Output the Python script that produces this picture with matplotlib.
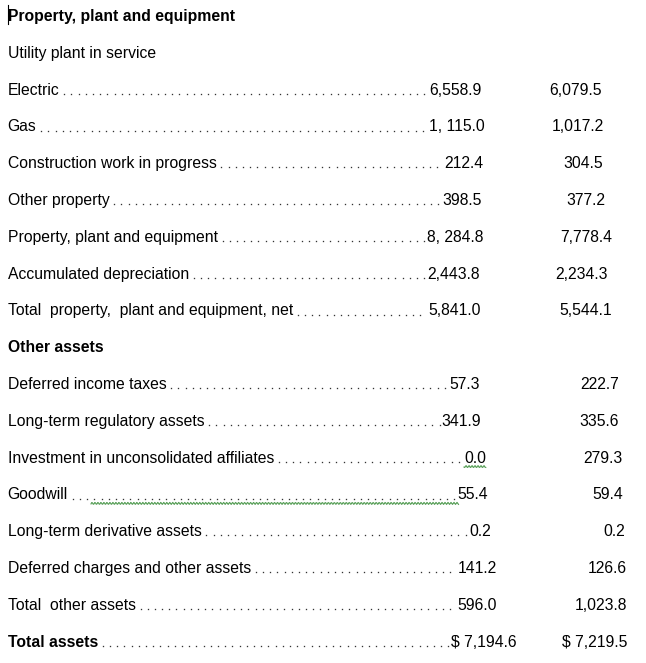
from matplotlib import pyplot as plt
import numpy as np

# rows of the balance sheet extract (None = no figures on that row)
labels = [
    "Property, plant and equipment",
    "Utility plant in service",
    "Electric",
    "Gas",
    "Construction work in progress",
    "Other property",
    "Property, plant and equipment",
    "Accumulated depreciation",
    "Total  property,  plant and equipment, net",
    "Other assets",
    "Deferred income taxes",
    "Long-term regulatory assets",
    "Investment in unconsolidated affiliates",
    "Goodwill",
    "Long-term derivative assets",
    "Deferred charges and other assets",
    "Total  other assets",
    "Total assets",
]
bold_rows = [0, 9, 17]
col1 = [None, None, "6,558.9", "1, 115.0", "212.4", "398.5", "8, 284.8", "2,443.8",
        "5,841.0", None, "57.3", "341.9", "0.0", "55.4", "0.2", "141.2", "596.0",
        "$ 7,194.6"]
col2 = [None, None, "6,079.5", "1,017.2", "304.5", "377.2", "7,778.4", "2,234.3",
        "5,544.1", None, "222.7", "335.6", "279.3", "59.4", "0.2", "126.6", "1,023.8",
        "$ 7,219.5"]

# layout: right edge of each figure (pixels), as typed in the source document
col1_right = [None, None, 482, 485, 483, 482, 483, 480, 481, None, 480, 481, 486,
              488, 491, 497, 497, 517]
col2_right = [None, None, 602, 604, 603, 605, 612, 608, 612, None, 619, 619, 623,
              623, 625, 627, 627, 627]

W, H = 646, 663
fig = plt.figure(figsize=(W / 100, H / 100), dpi=100)
ax = fig.add_axes([0, 0, 1, 1])
ax.set_xlim(0, W)
ax.set_ylim(H, 0)
ax.axis("off")

font = dict(family=["Liberation Sans", "DejaVu Sans"], fontsize=11.3, color="black")
renderer = fig.canvas.get_renderer()
inv = ax.transData.inverted()


def right_x(t):
    bb = t.get_window_extent(renderer)
    return inv.transform((bb.x1, bb.y0))[0]


def left_x(t):
    bb = t.get_window_extent(renderer)
    return inv.transform((bb.x0, bb.y0))[0]


for i, lab in enumerate(labels):
    base = 15 + i * 36.8 + 6
    weight = "bold" if i in bold_rows else "normal"
    t = ax.text(7.5, base, lab, ha="left", va="baseline", fontweight=weight, **font)
    if col1[i] is None:
        continue
    v1 = ax.text(col1_right[i], base, col1[i], ha="right", va="baseline", **font)
    ax.text(col2_right[i], base, col2[i], ha="right", va="baseline", **font)

    # dot leaders between label and first figure
    x0 = right_x(t) + 5
    x1 = left_x(v1) - 1.5
    xs = np.arange(x0, x1, 7.2)
    ax.plot(xs, np.full(len(xs), base - 0.8), linestyle="none", marker="s",
            markersize=0.95, markeredgewidth=0, color="#333333")

    # spell-check squiggles of the source screenshot
    if lab == "Goodwill":
        wx = np.arange(91, 459, 0.75)
        ax.plot(wx, base + 4 + 1.0 * np.sin(wx * 2.1), color="#4f9a4f", lw=0.8)
    if lab.startswith("Investment"):
        wx = np.arange(left_x(v1), right_x(v1), 0.75)
        ax.plot(wx, base + 4 + 1.0 * np.sin(wx * 2.1), color="#4f9a4f", lw=0.8)

# text cursor at the start of the heading
ax.plot([8, 8], [5, 24], color="black", lw=0.8)

plt.savefig("out.png", dpi=100)
